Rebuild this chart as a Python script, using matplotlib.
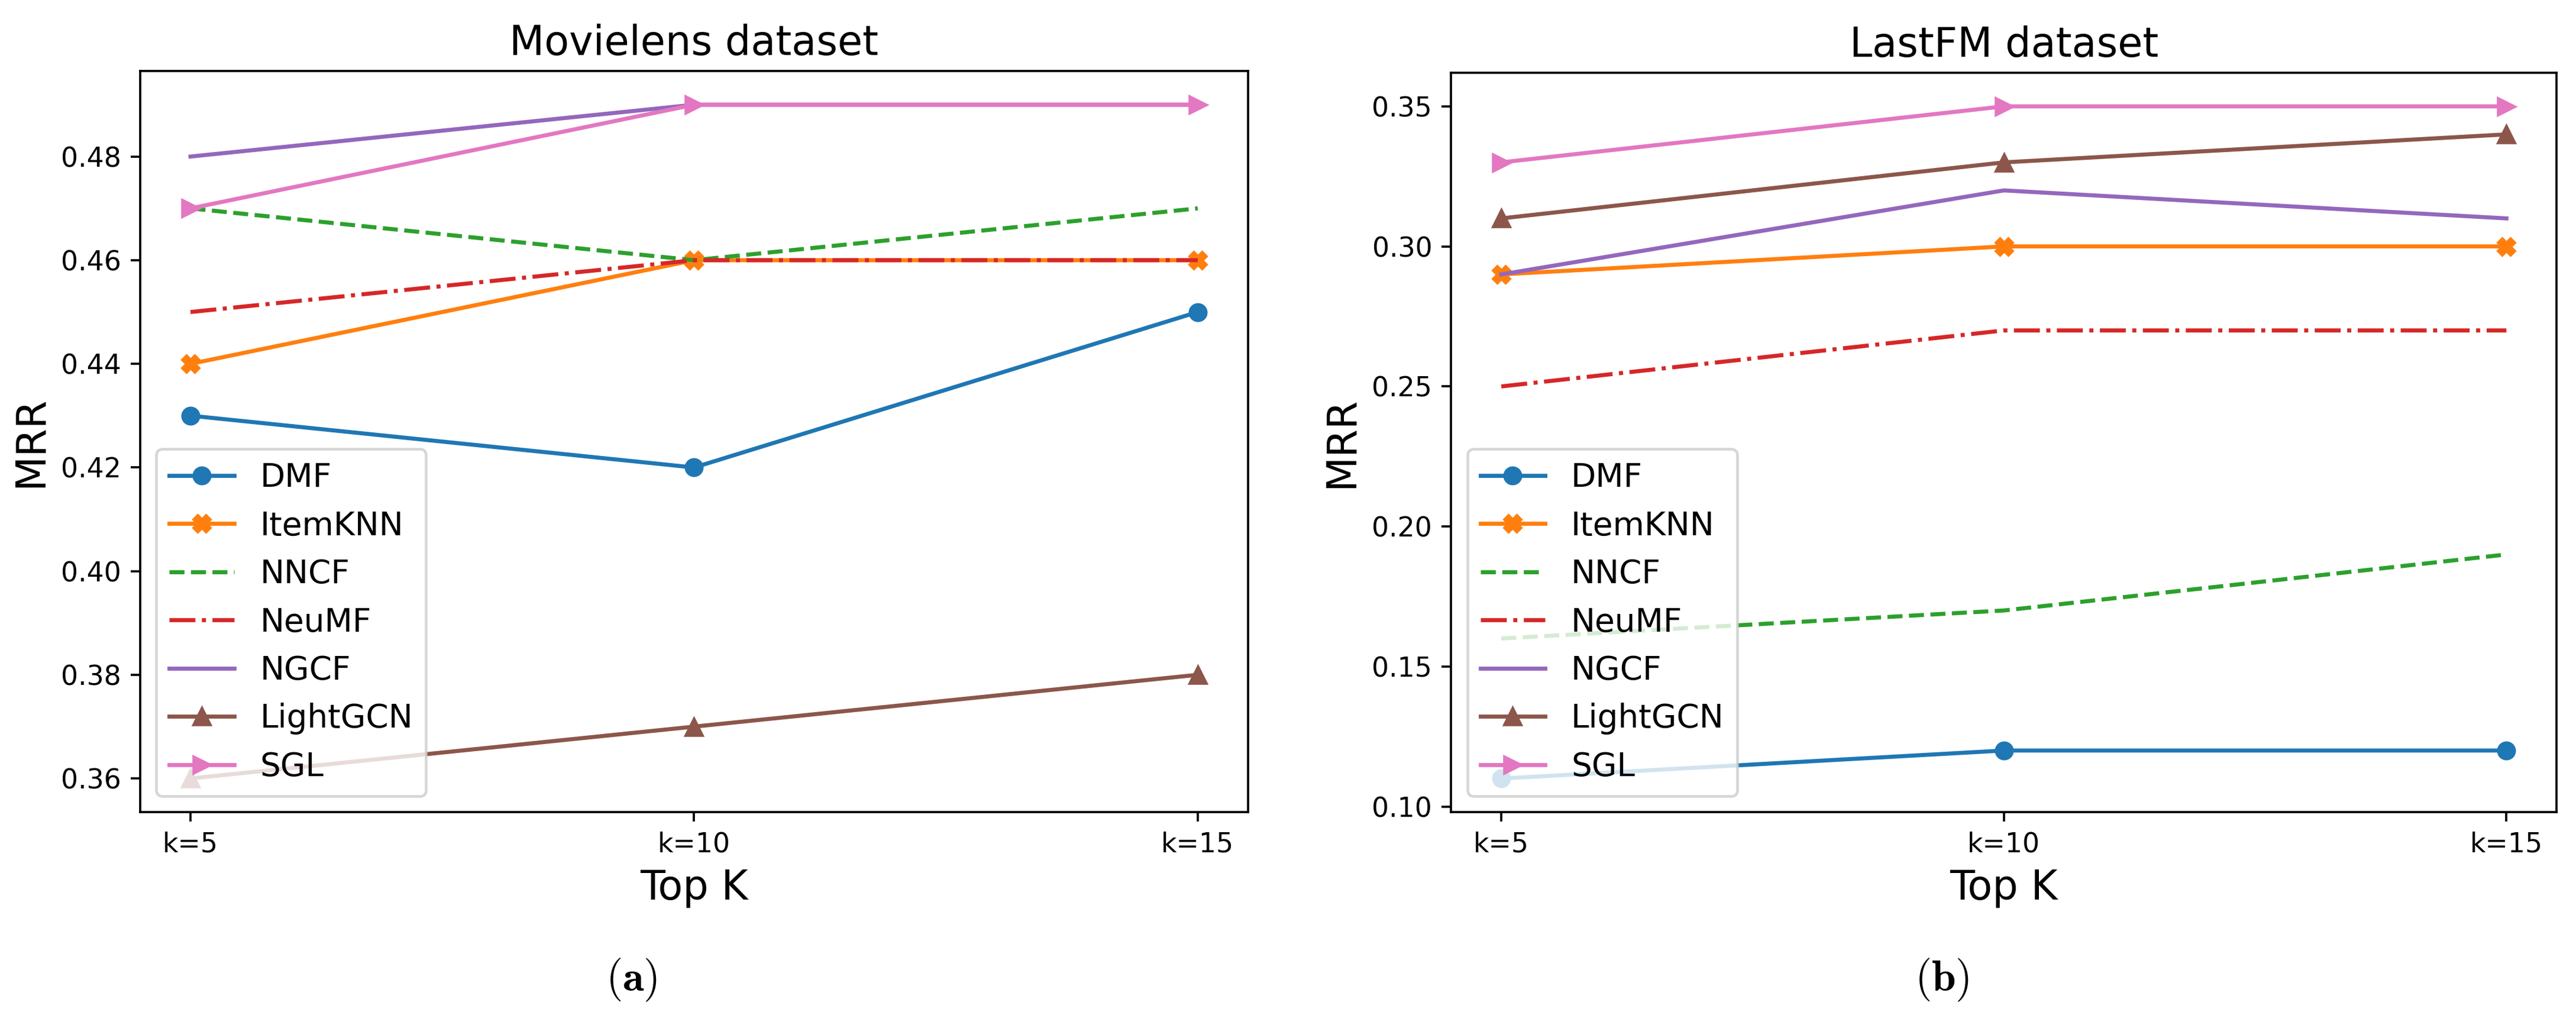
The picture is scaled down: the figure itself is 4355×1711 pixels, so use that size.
import matplotlib
matplotlib.use('Agg')
import matplotlib.pyplot as plt

DPI = 329
W, H = 4355, 1711

ks = ['k=5', 'k=10', 'k=15']
models = ['DMF', 'ItemKNN', 'NNCF', 'NeuMF', 'NGCF', 'LightGCN', 'SGL']

# MRR, Movielens
ml_dmf = [0.43, 0.42, 0.45]
ml_itemknn = [0.44, 0.46, 0.46]
ml_nncf = [0.47, 0.46, 0.47]
ml_neumf = [0.45, 0.46, 0.46]
ml_ngcf = [0.48, 0.49, 0.49]
ml_lightgcn = [0.36, 0.37, 0.38]
ml_sgl = [0.47, 0.49, 0.49]

# MRR, LastFM
fm_dmf = [0.11, 0.12, 0.12]
fm_itemknn = [0.29, 0.30, 0.30]
fm_nncf = [0.16, 0.17, 0.19]
fm_neumf = [0.25, 0.27, 0.27]
fm_ngcf = [0.29, 0.32, 0.31]
fm_lightgcn = [0.31, 0.33, 0.34]
fm_sgl = [0.33, 0.35, 0.35]

styles = {
    'DMF': dict(color='C0', ls='-', marker='o'),
    'ItemKNN': dict(color='C1', ls='-', marker='X'),
    'NNCF': dict(color='C2', ls='--', marker=''),
    'NeuMF': dict(color='C3', ls='-.', marker=''),
    'NGCF': dict(color='C4', ls='-', marker=''),
    'LightGCN': dict(color='C5', ls='-', marker='^'),
    'SGL': dict(color='C6', ls='-', marker='>'),
}


def plotpanel(ax, series, title):
    for name, vals in zip(models, series):
        st = styles[name]
        ax.plot(ks, vals, color=st['color'], linestyle=st['ls'],
                marker=st['marker'], label=name)
    ax.set_title(title, fontsize=15)
    ax.set_xlabel('Top K', fontsize=15)
    ax.set_ylabel('MRR', fontsize=15)
    ax.legend(loc='lower left', fontsize=12)


fig = plt.figure(figsize=(W / DPI, H / DPI), dpi=DPI)
ax1 = fig.add_axes([0.0544, 0.1975, 0.4301, 0.7323])
ax2 = fig.add_axes([0.5633, 0.1975, 0.4292, 0.7306])

plotpanel(ax1, [ml_dmf, ml_itemknn, ml_nncf, ml_neumf, ml_ngcf, ml_lightgcn, ml_sgl],
          'Movielens dataset')
plotpanel(ax2, [fm_dmf, fm_itemknn, fm_nncf, fm_neumf, fm_ngcf, fm_lightgcn, fm_sgl],
          'LastFM dataset')

plt.rcParams['mathtext.fontset'] = 'cm'
fig.text(0.2452, 0.0316, r'$(\mathbf{a})$', fontsize=16, ha='center', va='center')
fig.text(0.7538, 0.0316, r'$(\mathbf{b})$', fontsize=16, ha='center', va='center')

fig.savefig('out.png', dpi=DPI)
